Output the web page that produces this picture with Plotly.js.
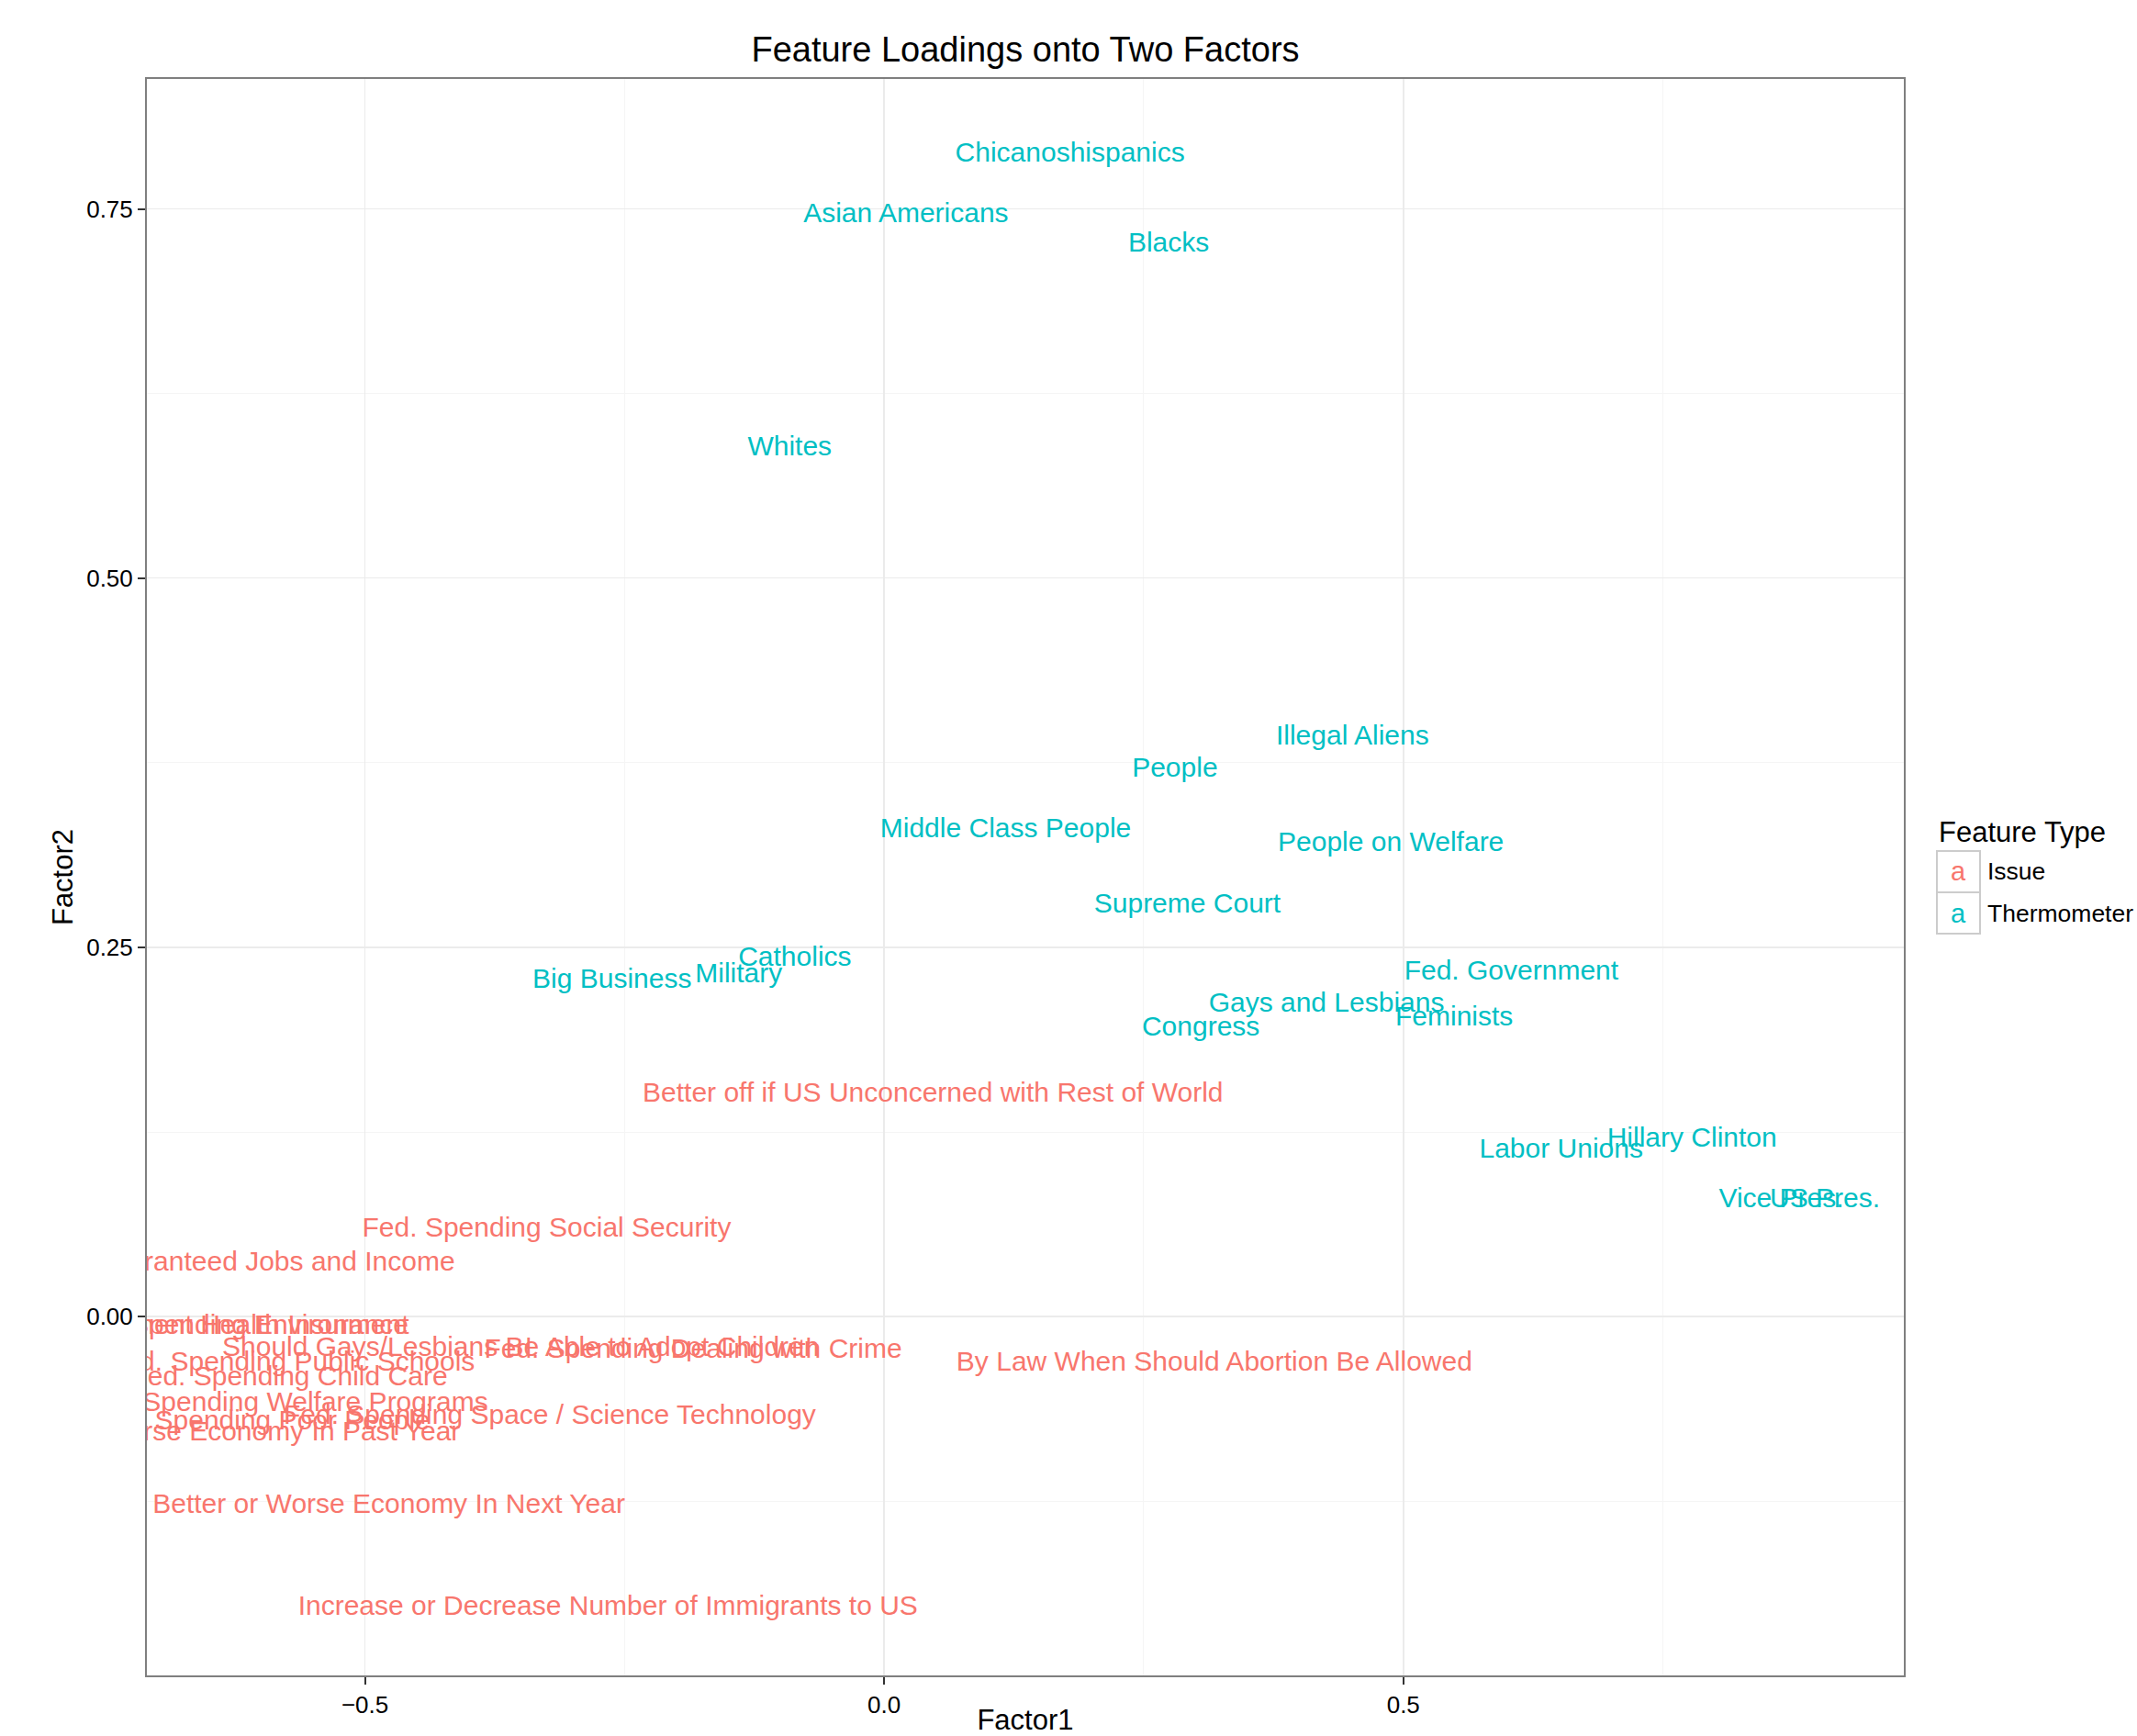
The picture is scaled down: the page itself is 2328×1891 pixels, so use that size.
<!DOCTYPE html>
<html>
<head>
<meta charset="utf-8">
<script src="https://cdn.plot.ly/plotly-3.0.1.min.js"></script>
<style>html,body{margin:0;padding:0;background:#fff;}#chart{width:2328px;height:1891px;}</style>
</head>
<body>
<div id="chart"></div>
<script>
// Thermometer features
var thermoLabels = ["Chicanoshispanics","Asian Americans","Blacks","Whites","Illegal Aliens","People","Middle Class People","People on Welfare","Supreme Court","Catholics","Military","Big Business","Fed. Government","Gays and Lesbians","Feminists","Congress","Labor Unions","Hillary Clinton","Vice Pres.","US Pres."];
var thermoF1 = [0.179, 0.021, 0.274, -0.091, 0.451, 0.280, 0.117, 0.488, 0.292, -0.086, -0.140, -0.262, 0.604, 0.426, 0.549, 0.305, 0.652, 0.778, 0.864, 0.906];
var thermoF2 = [0.787, 0.746, 0.726, 0.588, 0.392, 0.370, 0.329, 0.320, 0.278, 0.242, 0.231, 0.227, 0.233, 0.211, 0.202, 0.195, 0.112, 0.120, 0.079, 0.079];

// Issue features
var issueLabels = ["Better off if US Unconcerned with Rest of World","Fed. Spending Social Security","Guaranteed Jobs and Income","Fed. Spending Environment","Government Health Insurance","Should Gays/Lesbians Be Able to Adopt Children","Fed. Spending Dealing with Crime","Fed. Spending Public Schools","Fed. Spending Child Care","Fed. Spending Welfare Programs","Fed. Spending Poor People","Fed. Spending Space / Science Technology","Better or Worse Economy In Past Year","Better or Worse Economy In Next Year","Increase or Decrease Number of Immigrants to US","By Law When Should Abortion Be Allowed"];
var issueF1 = [0.047, -0.325, -0.588, -0.622, -0.635, -0.350, -0.184, -0.571, -0.573, -0.578, -0.600, -0.322, -0.635, -0.477, -0.266, 0.318];
var issueF2 = [0.150, 0.059, 0.036, -0.007, -0.007, -0.022, -0.023, -0.032, -0.042, -0.059, -0.072, -0.068, -0.079, -0.128, -0.197, -0.032];

var typeNames = ["Issue", "Thermometer"];
var typeColors = ["#F8766D", "#00BFC4"];

var FONT = "Liberation Sans, Arial, Helvetica, sans-serif";

var traces = [
  {x: issueF1, y: issueF2, text: issueLabels, name: typeNames[0], type: "scatter", mode: "text",
   textposition: "middle center", cliponaxis: true,
   textfont: {family: FONT, size: 30, color: typeColors[0]}, hoverinfo: "text"},
  {x: thermoF1, y: thermoF2, text: thermoLabels, name: typeNames[1], type: "scatter", mode: "text",
   textposition: "middle center", cliponaxis: true,
   textfont: {family: FONT, size: 30, color: typeColors[1]}, hoverinfo: "text"}
];

// custom ggplot-like legend
var W = 2328, H = 1891, PL = 160, PR = 2074, PT = 86, PB = 1825;
function toPx(x){ return (x - PL) / (PR - PL); }
function toPy(y){ return (PB - y) / (PB - PT); }

var shapes = [], annotations = [];
annotations.push({xref: "paper", yref: "paper", x: toPx(2110), y: toPy(907), xanchor: "left", yanchor: "middle",
  text: "Feature Type", showarrow: false, font: {family: FONT, size: 31, color: "#000"}});
for (var i = 0; i < typeNames.length; i++) {
  var boxTop = 927 + i * 45, boxBot = boxTop + 45, boxMid = (boxTop + boxBot) / 2;
  shapes.push({type: "rect", xref: "paper", yref: "paper", x0: toPx(2110), x1: toPx(2157), y0: toPy(boxBot), y1: toPy(boxTop),
    line: {color: "#cccccc", width: 2}, fillcolor: "rgba(255,255,255,0)", layer: "above"});
  annotations.push({xref: "paper", yref: "paper", x: toPx(2133.5), y: toPy(boxMid), xanchor: "center", yanchor: "middle",
    text: "a", showarrow: false, font: {family: FONT, size: 29, color: typeColors[i]}});
  annotations.push({xref: "paper", yref: "paper", x: toPx(2163), y: toPy(boxMid), xanchor: "left", yanchor: "middle",
    text: typeNames[i], showarrow: false, font: {family: FONT, size: 26.5, color: "#000"}});
}

var layout = {
  width: W, height: H,
  margin: {l: PL, r: W - PR, t: PT, b: H - PB, pad: 0},
  paper_bgcolor: "#ffffff", plot_bgcolor: "#ffffff",
  showlegend: false,
  title: {text: "Feature Loadings onto Two Factors", x: 0.5, xref: "paper", xanchor: "center",
    y: 1 - 54 / H, yref: "container", yanchor: "middle", font: {family: FONT, size: 38, color: "#000"}},
  xaxis: {
    range: [-0.710, 0.982], tickvals: [-0.5, 0, 0.5], ticktext: ["\u22120.5", "0.0", "0.5"],
    showgrid: true, gridcolor: "#ebebeb", gridwidth: 1.5, zeroline: false,
    minor: {tickvals: [-0.25, 0.25, 0.75], showgrid: true, gridcolor: "#f5f5f5", gridwidth: 1, ticks: ""},
    ticks: "outside", ticklen: 8, tickwidth: 2, tickcolor: "#333333",
    tickfont: {family: FONT, size: 26, color: "#000"},
    showline: true, linecolor: "#7f7f7f", linewidth: 2, mirror: true,
    title: {text: "Factor1", font: {family: FONT, size: 31, color: "#000"}, standoff: 22},
    automargin: false
  },
  yaxis: {
    range: [-0.243, 0.838], tickvals: [0, 0.25, 0.5, 0.75], ticktext: ["0.00", "0.25", "0.50", "0.75"],
    showgrid: true, gridcolor: "#ebebeb", gridwidth: 1.5, zeroline: false,
    minor: {tickvals: [-0.125, 0.125, 0.375, 0.625], showgrid: true, gridcolor: "#f5f5f5", gridwidth: 1, ticks: ""},
    ticks: "outside", ticklen: 8, tickwidth: 2, tickcolor: "#333333",
    tickfont: {family: FONT, size: 26, color: "#000"},
    showline: true, linecolor: "#7f7f7f", linewidth: 2, mirror: true,
    title: {text: "Factor2", font: {family: FONT, size: 31, color: "#000"}, standoff: 5},
    automargin: false
  },
  shapes: shapes,
  annotations: annotations
};

Plotly.newPlot("chart", traces, layout, {displayModeBar: false, staticPlot: true});
</script>
</body>
</html>
